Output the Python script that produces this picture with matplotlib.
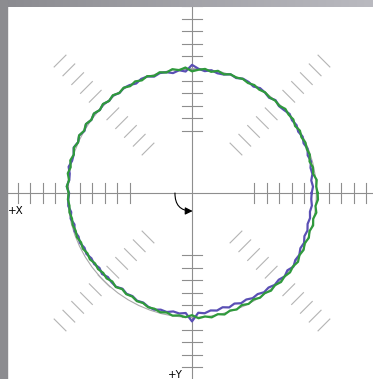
import numpy as np
import matplotlib.pyplot as plt
from matplotlib.patches import Circle, FancyArrowPatch, Rectangle
from matplotlib.colors import LinearSegmentedColormap

# angle of each sample (deg, counter-clockwise from the right) and measured radius
angles_deg = list(range(0, 360, 3))
radius_blue = [9.62, 9.74, 9.64, 9.80, 9.74, 9.90, 9.78, 9.95, 9.82, 9.98,
               9.86, 10.02, 9.94, 10.10, 9.96, 9.88, 10.04, 9.85, 9.98, 10.05,
               9.88, 10.02, 10.06, 9.90, 10.03, 9.86, 9.84, 9.99, 9.85, 10.00,
               10.30, 9.78, 9.92, 9.76, 9.93, 9.98, 9.84, 10.03, 10.04, 9.88,
               10.02, 10.07, 9.93, 10.09, 9.96, 10.10, 9.97, 10.14, 10.00, 10.16,
               9.98, 10.18, 10.03, 10.19, 10.00, 9.98, 10.14, 9.95, 9.92, 10.08,
               9.88, 9.95, 10.00, 9.83, 9.97, 9.78, 9.93, 9.77, 9.86, 9.70,
               9.80, 9.64, 9.72, 9.57, 9.73, 9.56, 9.66, 9.70, 9.51, 9.66,
               9.57, 9.72, 9.64, 9.80, 9.86, 9.71, 9.78, 9.64, 9.74, 9.66,
               10.32, 9.64, 9.72, 9.56, 9.66, 9.51, 9.67, 9.52, 9.70, 9.61,
               9.76, 9.69, 9.86, 9.78, 9.94, 9.86, 10.02, 9.87, 10.08, 9.90,
               9.96, 9.78, 9.86, 9.68, 9.76, 9.62, 9.70, 9.60, 9.69, 9.60]
radius_green = [10.10, 10.00, 10.08, 9.86, 9.94, 9.78, 9.96, 9.88, 9.98, 9.87,
                10.02, 9.88, 10.07, 10.00, 10.10, 9.92, 9.99, 9.90, 10.00, 9.91,
                10.02, 9.92, 10.04, 9.94, 10.03, 9.88, 10.04, 9.86, 10.03, 9.92,
                9.78, 10.10, 9.93, 10.08, 9.90, 10.05, 9.89, 10.06, 9.91, 10.07,
                9.92, 10.09, 9.94, 10.11, 9.96, 10.12, 9.97, 10.15, 10.00, 10.17,
                10.01, 10.19, 10.02, 10.17, 9.99, 10.13, 9.97, 10.11, 9.94, 10.08,
                9.91, 9.99, 9.90, 9.97, 9.86, 9.93, 9.83, 9.91, 9.76, 9.85,
                9.70, 9.79, 9.63, 9.72, 9.60, 9.71, 9.57, 9.73, 9.55, 9.70,
                9.61, 9.76, 9.68, 9.84, 9.78, 9.92, 9.82, 9.98, 9.89, 9.99,
                9.82, 10.08, 9.98, 10.12, 9.96, 10.11, 9.93, 10.03, 9.86, 10.01,
                9.88, 10.04, 9.95, 10.10, 9.97, 10.12, 10.02, 10.14, 10.04, 10.16,
                9.98, 10.07, 9.92, 10.06, 9.93, 10.08, 9.96, 10.12, 9.98, 10.14]
ref_radius = 10
tick_positions = list(range(5, 16))
x_label = "+X"
y_label = "+Y"

px = 12.44  # pixels per unit
fig = plt.figure(figsize=(3.73, 3.79), dpi=100)
ax = fig.add_axes([7 / 373, 0, 366 / 373, 372 / 379])
ax.set_xlim(-185 / px, 181 / px)
ax.set_ylim(-186 / px, 186 / px)
ax.axis("off")

axis_col = "#8e8e8e"
ax.axhline(0, color=axis_col, lw=0.8, zorder=1)
ax.axvline(0, color=axis_col, lw=0.8, zorder=1)
for k in tick_positions:
    for s in (-1, 1):
        ax.plot([s * k, s * k], [-0.8, 0.8], color=axis_col, lw=0.8, zorder=1)
        ax.plot([-0.8, 0.8], [s * k, s * k], color=axis_col, lw=0.8, zorder=1)

# short marks along the diagonals
diag_col = "#b4b4b4"
h = 0.67
for dx, dy in [(1, 1), (-1, 1), (-1, -1), (1, -1)]:
    ux, uy = dx / np.sqrt(2), dy / np.sqrt(2)
    nx, ny = -uy, ux
    for k in tick_positions:
        cx, cy = k * ux, k * uy
        ax.plot([cx - h * nx, cx + h * nx], [cy - h * ny, cy + h * ny],
                color=diag_col, lw=0.8, zorder=1)

ax.add_patch(Circle((0, 0), ref_radius, fill=False, ec="#a8a8a8", lw=0.8, zorder=2))

th = np.deg2rad(angles_deg + [angles_deg[0]])
rb = np.array(radius_blue + [radius_blue[0]])
rg = np.array(radius_green + [radius_green[0]])
ax.plot(rb * np.cos(th), rb * np.sin(th), color="#5a4fb4", lw=1.6, zorder=3)
ax.plot(rg * np.cos(th), rg * np.sin(th), color="#2f9a3c", lw=1.6, zorder=4)

ax.add_patch(FancyArrowPatch((-1.37, 0), (0.05, -1.45), connectionstyle="arc3,rad=0.5",
                             arrowstyle="-|>", mutation_scale=11, color="black",
                             lw=0.8, shrinkA=0, shrinkB=0, zorder=5))

ax.text(-184 / px, -21 / px, x_label, fontsize=7.5, ha="left", va="baseline")
ax.text(-9 / px, -185 / px, y_label, fontsize=7.5, ha="right", va="baseline")

# gray frame strips
grad = np.linspace(0, 1, 256).reshape(1, -1)
top = fig.add_axes([0, 372 / 379, 1, 7 / 379])
top.imshow(grad, aspect="auto",
           cmap=LinearSegmentedColormap.from_list("g", ["#8a8a8f", "#babac0"]))
top.axis("off")
fig.patches.append(Rectangle((0, 0), 7 / 373, 1, transform=fig.transFigure,
                             color="#8c8c90", zorder=10))

plt.savefig("out.png", dpi=100)
plt.close()
